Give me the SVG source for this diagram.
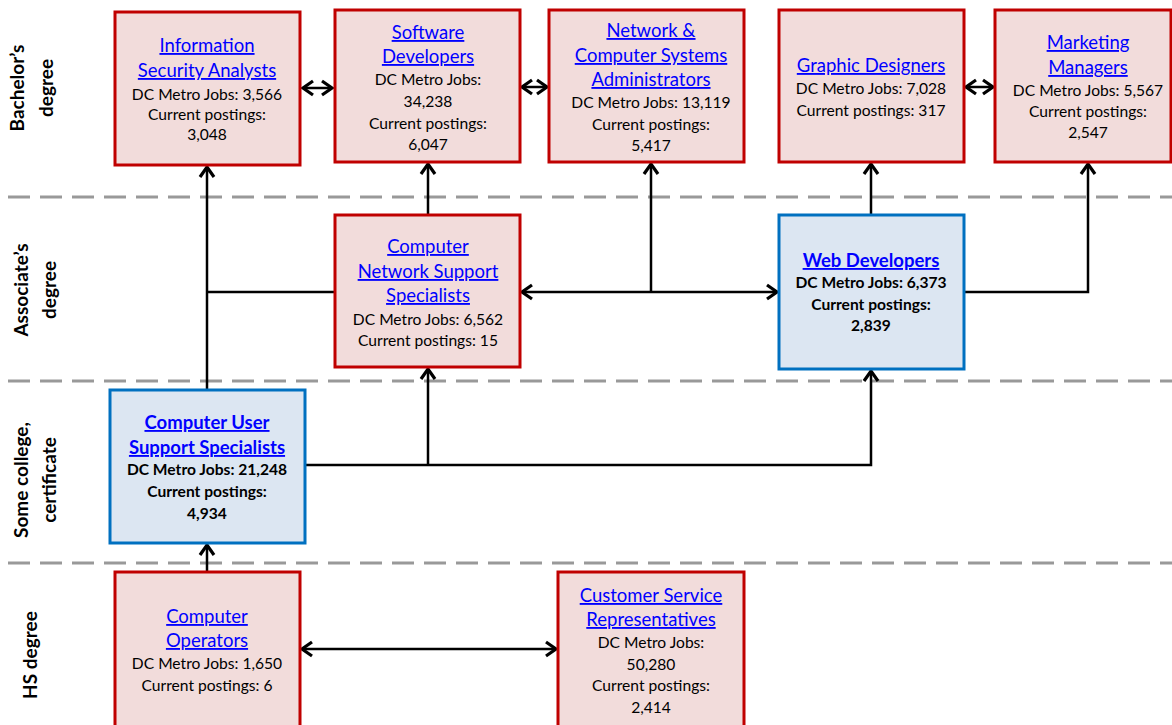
<svg xmlns="http://www.w3.org/2000/svg" width="1172" height="725" viewBox="0 0 1172 725">
<defs>
<style>
.red{fill:#F2DCDB;stroke:#C00000;stroke-width:3}
.blue{fill:#DCE6F2;stroke:#0070C0;stroke-width:3}
.t{font-family:Lato,"Open Sans","Liberation Sans",sans-serif;text-anchor:middle}
.ln{font-size:18.5px;fill:#0000FF;text-decoration:underline}
.b{font-size:15.6px;fill:#000}
.bold{font-weight:bold}
.lbl{font-family:Lato,"Open Sans","Liberation Sans",sans-serif;font-size:19px;font-weight:bold;text-anchor:middle;fill:#000}
.dash{stroke:#999;stroke-width:3;stroke-dasharray:22 10;fill:none}
.c{stroke:#000;stroke-width:2.5;fill:none}
</style>
<marker id="ah" markerUnits="userSpaceOnUse" markerWidth="20" markerHeight="20" viewBox="-13 -10 15 20" refX="0" refY="0" orient="auto-start-reverse">
<path d="M-10,-7 L0,0 L-10,7" fill="none" stroke="#000" stroke-width="3.2"/>
</marker>
</defs>
<rect width="1172" height="725" fill="#fff"/>
<g id="lanes">
<line class="dash" x1="8" y1="197" x2="1172" y2="197"/>
<line class="dash" x1="8" y1="381" x2="1172" y2="381"/>
<line class="dash" x1="8" y1="563" x2="1172" y2="563"/>
<text class="lbl" transform="translate(24,88) rotate(-90)">Bachelor’s</text>
<text class="lbl" transform="translate(53,88) rotate(-90)">degree</text>
<text class="lbl" transform="translate(28,290) rotate(-90)">Associate’s</text>
<text class="lbl" transform="translate(56,290) rotate(-90)">degree</text>
<text class="lbl" transform="translate(28,480) rotate(-90)">Some college,</text>
<text class="lbl" transform="translate(56,480) rotate(-90)">certificate</text>
<text class="lbl" transform="translate(37,655) rotate(-90)">HS degree</text>
</g>
<g id="connectors">
<line class="c" x1="303" y1="88" x2="332" y2="88" marker-start="url(#ah)" marker-end="url(#ah)"/>
<line class="c" x1="522" y1="87" x2="547" y2="87" marker-start="url(#ah)" marker-end="url(#ah)"/>
<line class="c" x1="966" y1="87" x2="993" y2="87" marker-start="url(#ah)" marker-end="url(#ah)"/>
<line class="c" x1="207" y1="389" x2="207" y2="167" marker-end="url(#ah)"/>
<line class="c" x1="207" y1="292" x2="335" y2="292"/>
<line class="c" x1="428" y1="214" x2="428" y2="164" marker-end="url(#ah)"/>
<line class="c" x1="522" y1="292" x2="777" y2="292" marker-start="url(#ah)" marker-end="url(#ah)"/>
<line class="c" x1="651" y1="292" x2="651" y2="164" marker-end="url(#ah)"/>
<line class="c" x1="871" y1="214" x2="871" y2="164" marker-end="url(#ah)"/>
<polyline class="c" points="965,292 1088,292 1088,164" marker-end="url(#ah)"/>
<polyline class="c" points="306,465 871,465 871,371" marker-end="url(#ah)"/>
<line class="c" x1="428" y1="465" x2="428" y2="369" marker-end="url(#ah)"/>
<line class="c" x1="207" y1="571" x2="207" y2="545" marker-end="url(#ah)"/>
<line class="c" x1="302" y1="649" x2="556" y2="649" marker-start="url(#ah)" marker-end="url(#ah)"/>
</g>
<g id="info-security">
<rect class="red" x="115" y="12" width="185" height="153"/>
<text class="t ln" x="207" y="52">Information</text>
<text class="t ln" x="207" y="77">Security Analysts</text>
<text class="t b" x="207" y="100">DC Metro Jobs: 3,566</text>
<text class="t b" x="207" y="120">Current postings:</text>
<text class="t b" x="207" y="140">3,048</text>
</g>
<g id="software-dev">
<rect class="red" x="335" y="10" width="185" height="152"/>
<text class="t ln" x="428" y="39">Software</text>
<text class="t ln" x="428" y="63">Developers</text>
<text class="t b" x="428" y="85">DC Metro Jobs:</text>
<text class="t b" x="428" y="107">34,238</text>
<text class="t b" x="428" y="129">Current postings:</text>
<text class="t b" x="428" y="150">6,047</text>
</g>
<g id="network-admin">
<rect class="red" x="549" y="10" width="195" height="152"/>
<text class="t ln" x="651" y="37">Network &amp;</text>
<text class="t ln" x="651" y="62">Computer Systems</text>
<text class="t ln" x="651" y="86">Administrators</text>
<text class="t b" x="651" y="108">DC Metro Jobs: 13,119</text>
<text class="t b" x="651" y="130">Current postings:</text>
<text class="t b" x="651" y="151">5,417</text>
</g>
<g id="graphic-designers">
<rect class="red" x="779" y="10" width="185" height="152"/>
<text class="t ln" x="871" y="72">Graphic Designers</text>
<text class="t b" x="871" y="94">DC Metro Jobs: 7,028</text>
<text class="t b" x="871" y="116">Current postings: 317</text>
</g>
<g id="marketing-managers">
<rect class="red" x="995" y="10" width="176" height="152"/>
<text class="t ln" x="1088" y="49">Marketing</text>
<text class="t ln" x="1088" y="74">Managers</text>
<text class="t b" x="1088" y="96">DC Metro Jobs: 5,567</text>
<text class="t b" x="1088" y="117">Current postings:</text>
<text class="t b" x="1088" y="138">2,547</text>
</g>
<g id="network-support">
<rect class="red" x="335" y="215" width="185" height="152"/>
<text class="t ln" x="428" y="253">Computer</text>
<text class="t ln" x="428" y="278">Network Support</text>
<text class="t ln" x="428" y="302">Specialists</text>
<text class="t b" x="428" y="325">DC Metro Jobs: 6,562</text>
<text class="t b" x="428" y="346">Current postings: 15</text>
</g>
<g id="web-developers">
<rect class="blue" x="779" y="215" width="185" height="154"/>
<text class="t ln bold" x="871" y="267">Web Developers</text>
<text class="t b bold" x="871" y="288">DC Metro Jobs: 6,373</text>
<text class="t b bold" x="871" y="310">Current postings:</text>
<text class="t b bold" x="871" y="331">2,839</text>
</g>
<g id="user-support">
<rect class="blue" x="110" y="390" width="195" height="153"/>
<text class="t ln bold" x="207" y="429">Computer User</text>
<text class="t ln bold" x="207" y="454">Support Specialists</text>
<text class="t b bold" x="207" y="475">DC Metro Jobs: 21,248</text>
<text class="t b bold" x="207" y="497">Current postings:</text>
<text class="t b bold" x="207" y="519">4,934</text>
</g>
<g id="computer-operators">
<rect class="red" x="115" y="572" width="185" height="160"/>
<text class="t ln" x="207" y="623">Computer</text>
<text class="t ln" x="207" y="647">Operators</text>
<text class="t b" x="207" y="669">DC Metro Jobs: 1,650</text>
<text class="t b" x="207" y="691">Current postings: 6</text>
</g>
<g id="customer-service">
<rect class="red" x="558" y="572" width="186" height="160"/>
<text class="t ln" x="651" y="602">Customer Service</text>
<text class="t ln" x="651" y="626">Representatives</text>
<text class="t b" x="651" y="648">DC Metro Jobs:</text>
<text class="t b" x="651" y="670">50,280</text>
<text class="t b" x="651" y="691">Current postings:</text>
<text class="t b" x="651" y="713">2,414</text>
</g>
</svg>
